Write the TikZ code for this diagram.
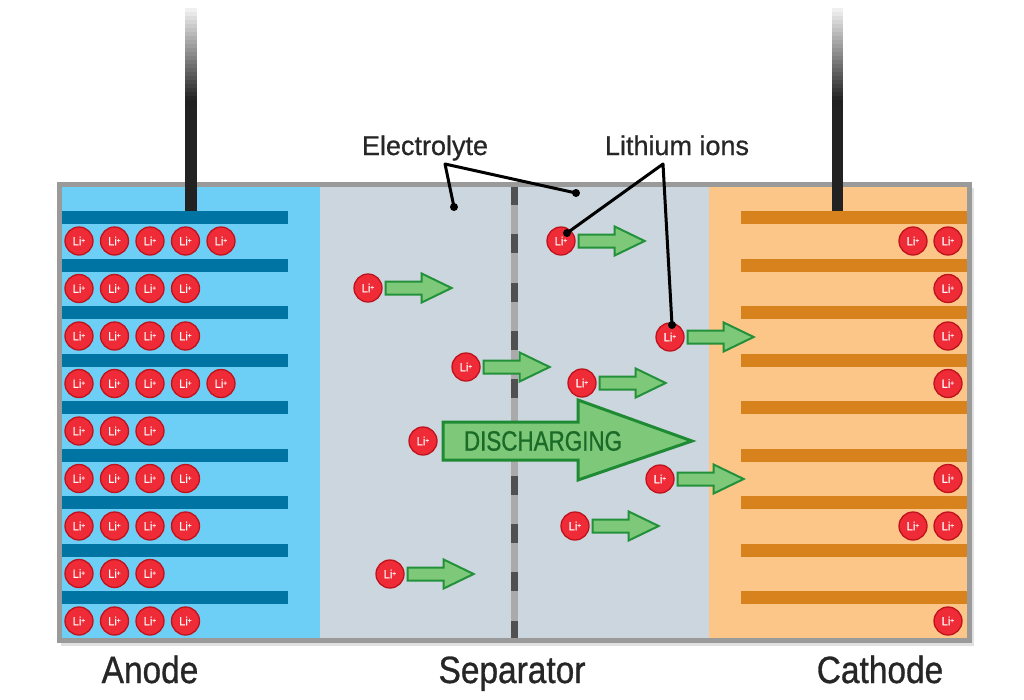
\documentclass[tikz,border=0pt]{standalone}
\usepackage{fontspec}
\setmainfont{Liberation Sans}
\newfontfamily\labelfont[FakeBold=0.7]{Liberation Sans}
\newfontfamily\condfont[FakeStretch=0.88,FakeBold=0.8]{Liberation Sans}
\newfontfamily\dischfont[FakeStretch=0.8,FakeBold=0.8]{Liberation Sans}
\newfontfamily\ionfont[FakeStretch=0.9,FakeBold=0.4]{Liberation Sans}
\usetikzlibrary{calc}
\definecolor{anodebg}{HTML}{6DCFF6}
\definecolor{anodeplate}{HTML}{0074A2}
\definecolor{sepbg}{HTML}{CBD6DE}
\definecolor{cathbg}{HTML}{FBC688}
\definecolor{cathplate}{HTML}{D8821E}
\definecolor{boxedge}{HTML}{9A9A9A}
\definecolor{ionfill}{HTML}{EE2B36}
\definecolor{ionedge}{HTML}{BE131D}
\definecolor{arrowfill}{HTML}{7EC87A}
\definecolor{arrowedge}{HTML}{23913A}
\definecolor{dischedge}{HTML}{1E8A33}
\definecolor{dischtext}{HTML}{1A6B28}
\definecolor{labeltext}{HTML}{262626}
\definecolor{sepband}{HTML}{AAAAAA}
\definecolor{sepdash}{HTML}{505050}
\definecolor{wire}{HTML}{222222}
\tikzset{
  ion/.style={circle, draw=ionedge, line width=1.3pt, fill=ionfill, minimum size=28pt,
    inner sep=0pt, text=white, font=\ionfont\fontsize{12}{12}\selectfont},
  leader/.style={draw=black, line width=3pt, line cap=round, line join=round},
  dot/.style={circle, fill=black, minimum size=8pt, inner sep=0pt},
  toplabel/.style={text=labeltext, anchor=base, inner sep=0pt, font=\labelfont\fontsize{27}{27}\selectfont},
  botlabel/.style={text=labeltext, anchor=base, inner sep=0pt, font=\condfont\fontsize{38}{38}\selectfont},
  flowarrow/.pic={\draw[draw=arrowedge, line width=2pt, fill=arrowfill, line join=miter]
    (0,-6.5) -- (36,-6.5) -- (36,-14.5) -- (66,0) -- (36,14.5) -- (36,6.5) -- (0,6.5) -- cycle;}
}
\newcommand{\Li}{Li\raisebox{0.35ex}{\fontsize{7.5}{7.5}\selectfont+}}
\begin{document}
\begin{tikzpicture}[x=1pt,y=-1pt]
\useasboundingbox (0,0) rectangle (1024,699);
\fill[white] (0,0) rectangle (1024,699);
% shadow
\fill[black!20, opacity=0.6] (61,188) rectangle (974,646);
% regions
\fill[anodebg] (62,187) rectangle (320,638);
\fill[sepbg] (320,187) rectangle (709,638);
\fill[cathbg] (709,187) rectangle (967,638);
% plates
\foreach \k in {0,...,8} {
  \fill[anodeplate] (62,{211+47.5*\k}) rectangle (288,{224+47.5*\k});
  \fill[cathplate] (741,{211+47.5*\k}) rectangle (967,{224+47.5*\k});
}
% separator
\fill[sepband] (510.5,187) rectangle (517.5,638);
\foreach \k in {0,...,9} {
  \fill[sepdash] (510.5,{186+48.3*\k}) rectangle (517.5,{min(205+48.3*\k,638)});
}
% box border
\draw[boxedge, line width=5pt] (59.5,184.5) rectangle (969.5,640.5);
% wires
\foreach \i in {0,...,24} {
  \pgfmathsetmacro{\shadeval}{min(87,6+\i*3.6)}
  \fill[black!\shadeval] (185,{8+4*\i}) rectangle (197,{12.3+4*\i});
  \fill[black!\shadeval] (832,{8+4*\i}) rectangle (843,{12.3+4*\i});
}
\fill[wire] (185,108) rectangle (197,211);
\fill[wire] (832,108) rectangle (843,211);
% anode ions
\foreach \n [count=\r] in {5,4,4,5,3,4,4,3,4} {
  \foreach \c in {1,...,\n} {
    \node[ion] (a\r-\c) at ({79+35.5*(\c-1)},{241+47.5*(\r-1)}) {\Li};
  }
}
% cathode ions
\foreach \r/\n in {1/2,2/1,3/1,4/1,6/1,7/2,9/1} {
  \foreach \c in {1,...,\n} {
    \node[ion] (c\r-\c) at ({948-35*(\c-1)},{241+47.5*(\r-1)}) {\Li};
  }
}
% discharging arrow
\draw[draw=dischedge, line width=3pt, fill=arrowfill, line join=miter]
  (443,422) -- (578,422) -- (578,400) -- (692,441) -- (578,480) -- (578,460) -- (443,460) -- cycle;
\node[text=dischtext, inner sep=0pt, font=\dischfont\fontsize{28}{28}\selectfont] (dis) at (543,441) {DISCHARGING};
% moving ions
\node[ion] (m1) at (368,288) {\Li};
\node[ion] (m2) at (466,367) {\Li};
\node[ion] (m3) at (423,441) {\Li};
\node[ion] (m4) at (390,574) {\Li};
\node[ion] (m5) at (561,241) {\Li};
\node[ion] (m6) at (670,337) {\Li};
\node[ion] (m7) at (582,383) {\Li};
\node[ion] (m8) at (660,479) {\Li};
\node[ion] (m9) at (575,526) {\Li};
\foreach \m in {m1,m2,m4,m5,m6,m7,m8,m9} {
  \pic at ($(\m.east)+(3,0)$) {flowarrow};
}
% labels
\node[toplabel] (elab) at (425,155) {Electrolyte};
\node[toplabel] (llab) at (677,155) {Lithium ions};
\coordinate (ej) at (445,164);
\coordinate (lj) at (663,164);
\node[dot] (ed1) at (454,207) {};
\node[dot] (ed2) at (576,193) {};
\node[dot] (ld1) at (567,233) {};
\node[dot] (ld2) at (672,325) {};
\draw[leader] (ed1.center) -- (ej) -- (ed2.center);
\draw[leader] (ld1.center) -- (lj) -- (ld2.center);
\node[botlabel] (anode) at (150,683) {Anode};
\node[botlabel] (sep) at (512,683) {Separator};
\node[botlabel] (cath) at (880,683) {Cathode};
\end{tikzpicture}
\end{document}
